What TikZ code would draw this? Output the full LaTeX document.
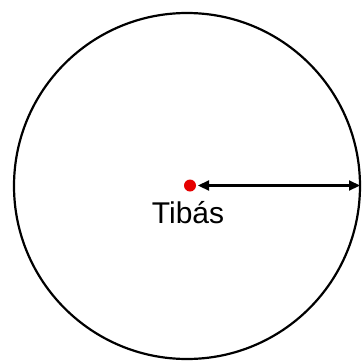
\documentclass[tikz,border=0pt]{standalone}
\usepackage{fontspec}
\setmainfont{Liberation Sans}
\usetikzlibrary{arrows.meta}
\begin{document}
\begin{tikzpicture}[x=1pt,y=-1pt,
  ring/.style={draw=black,line width=2.2pt},
  ray/.style={draw=black,line width=2.2pt,{Triangle[length=11pt,width=10pt]}-{Triangle[length=11pt,width=10pt]}},
  lbl/.style={font=\fontsize{30}{34}\selectfont,inner sep=0pt,anchor=base}]
\useasboundingbox[fill=white] (0,0) rectangle (362,362);
\node[circle,draw=none,minimum size=0pt,inner sep=0pt] (c) at (187,186) {};
\draw[ring] (c) circle (173);
\node[circle,fill={rgb,255:red,230;green,0;blue,0},inner sep=0pt,minimum size=12pt] (dot) at (190,185.5) {};
\coordinate (edge) at (360,185.5);
\coordinate (s) at (198,185.5);
\draw[ray] (s) -- (edge);
\node[lbl] (t) at (188,223) {Tibás};
\end{tikzpicture}
\end{document}
